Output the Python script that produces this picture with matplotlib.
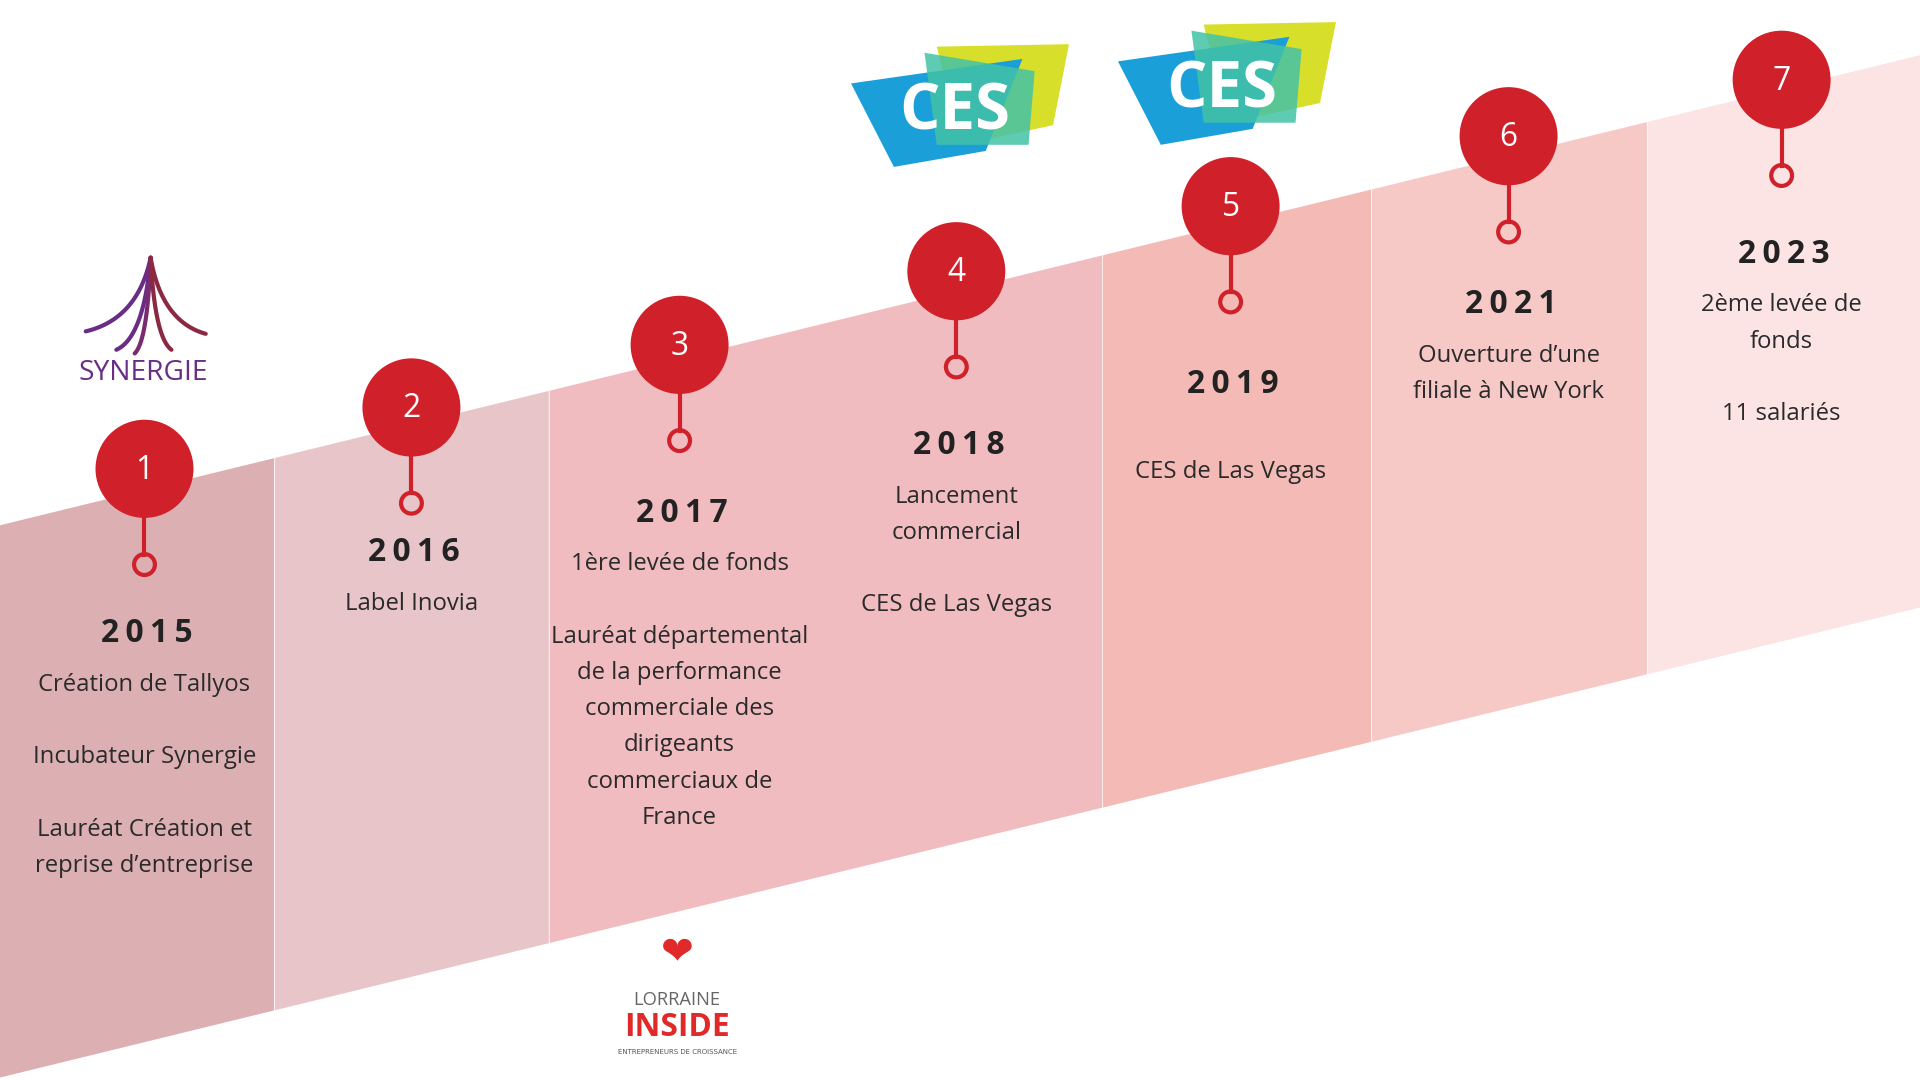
import matplotlib
matplotlib.use("Agg")
import matplotlib.pyplot as plt
import numpy as np
from matplotlib.patches import Polygon, Circle

years = ["2015", "2016", "2017", "2018", "2019", "2021", "2023"]
numbers = ["1", "2", "3", "4", "5", "6", "7"]
descriptions = [
    "Création de Tallyos\n\nIncubateur Synergie\n\nLauréat Création et\nreprise d\u2019entreprise",
    "Label Inovia",
    "1ère levée de fonds\n\nLauréat départemental\nde la performance\ncommerciale des\ndirigeants\ncommerciaux de\nFrance",
    "Lancement\ncommercial\n\nCES de Las Vegas",
    "\nCES de Las Vegas",
    "Ouverture d\u2019une\nfiliale à New York",
    "2ème levée de\nfonds\n\n11 salariés",
]

# layout (reference pixel space)
W, H = 1568, 880
col_edges = [0, 224, 448, 900, 1120, 1345, 1568]
col_colors = ["#dcb0b3", "#e8c5c8", "#f0bcc0", "#f4bab6", "#f6c9c7", "#fce4e4"]
mark_x = [118, 336, 555, 781, 1005, 1232, 1455]
mark_y = [382, 332, 281, 221, 168, 111, 65]
year_y = [516, 450, 418, 363, 313, 248, 207]

def top(x):
    return 428 + (45 - 428) * x / W
def bot(x):
    return 878 + (495 - 878) * x / W

fig = plt.figure(figsize=(19.2, 10.8), dpi=100)
ax = fig.add_axes([0, 0, 1, 1])
ax.set_xlim(0, W); ax.set_ylim(H, 0); ax.axis("off")

for i, c in enumerate(col_colors):
    a, b = col_edges[i], col_edges[i + 1]
    ax.add_patch(Polygon([(a, top(a)), (b, top(b)), (b, bot(b)), (a, bot(a))],
                         closed=True, fc=c, ec="none", zorder=1))
    if i > 0:
        ax.plot([a, a], [top(a), bot(a)], color="white", lw=0.8, alpha=0.7, zorder=2)

red = "#d0202a"
k = 0.88
for i in range(7):
    x, y = mark_x[i], mark_y[i]
    ax.plot([x, x], [y + 38, y + 70], color=red, lw=3, zorder=3)
    ax.add_patch(Circle((x, y + 78), 8.5, fc="none", ec=red, lw=3, zorder=4))
    ax.add_patch(Circle((x, y), 40, fc=red, ec="none", zorder=4))
    ax.text(x, y + 1, numbers[i], color="white", fontsize=26 * k, ha="center", va="center",
            family="Open Sans", zorder=5)
    ax.text(x + 2, year_y[i], "\u2009".join(years[i]), fontsize=26 * k,
            fontweight="bold", ha="center", va="center", family="Open Sans", color="#222222", zorder=5)
    ax.text(x, year_y[i] + 32, descriptions[i], fontsize=19.5 * k, ha="center", va="top",
            family="Open Sans", color="#2a2a2a", linespacing=1.68, zorder=5)

# SYNERGIE logo
ax.text(117, 304, "SYNERGIE", fontsize=23 * k, ha="center", va="center", color="#6a2d86", family="Open Sans")
t = np.linspace(0, 1, 40)
for ex, ey, col in [(70, 270, "#6a2d86"), (95, 285, "#6a2d86"), (110, 288, "#7a2a70"),
                    (140, 285, "#8b2842"), (168, 272, "#8b2842")]:
    sx, sy = 123, 210
    px = (1 - t) ** 2 * sx + 2 * (1 - t) * t * (sx + (ex - sx) * 0.2) + t ** 2 * ex
    py = (1 - t) ** 2 * sy + 2 * (1 - t) * t * (ey - 10) + t ** 2 * ey
    ax.plot(px, py, color=col, lw=3, solid_capstyle="round")

# CES logos
for cx, cy in [(785, 88), (1003, 70)]:
    ax.add_patch(Polygon([(cx - 20, cy - 50), (cx + 88, cy - 52), (cx + 75, cy + 14), (cx, cy + 30)],
                         fc="#d8df2a", ec="none", zorder=2))
    ax.add_patch(Polygon([(cx - 90, cy - 20), (cx + 50, cy - 40), (cx + 20, cy + 35), (cx - 55, cy + 48)],
                         fc="#1a9fd9", ec="none", zorder=3))
    ax.add_patch(Polygon([(cx - 30, cy - 45), (cx + 60, cy - 30), (cx + 55, cy + 30), (cx - 20, cy + 30)],
                         fc="#43c2a6", ec="none", alpha=0.85, zorder=3))
    ax.text(cx - 5, cy + 4, "CES", fontsize=52 * k, fontweight="bold", color="white", ha="center",
            va="center", family="Open Sans", zorder=4)

# Lorraine Inside logo
ax.text(553, 776, "\u2764", fontsize=32 * k, color="#e02a2a", ha="center", va="center", family="DejaVu Sans")
ax.text(553, 815, "LORRAINE", fontsize=15 * k, color="#666666", ha="center", va="center", family="Open Sans")
ax.text(553, 837, "INSIDE", fontsize=26 * k, fontweight="bold", color="#e02a2a", ha="center", va="center", family="Open Sans")
ax.text(553, 857, "ENTREPRENEURS DE CROISSANCE", fontsize=5, color="#555555", ha="center", va="center")

fig.savefig("out.png", dpi=100, facecolor="white")
